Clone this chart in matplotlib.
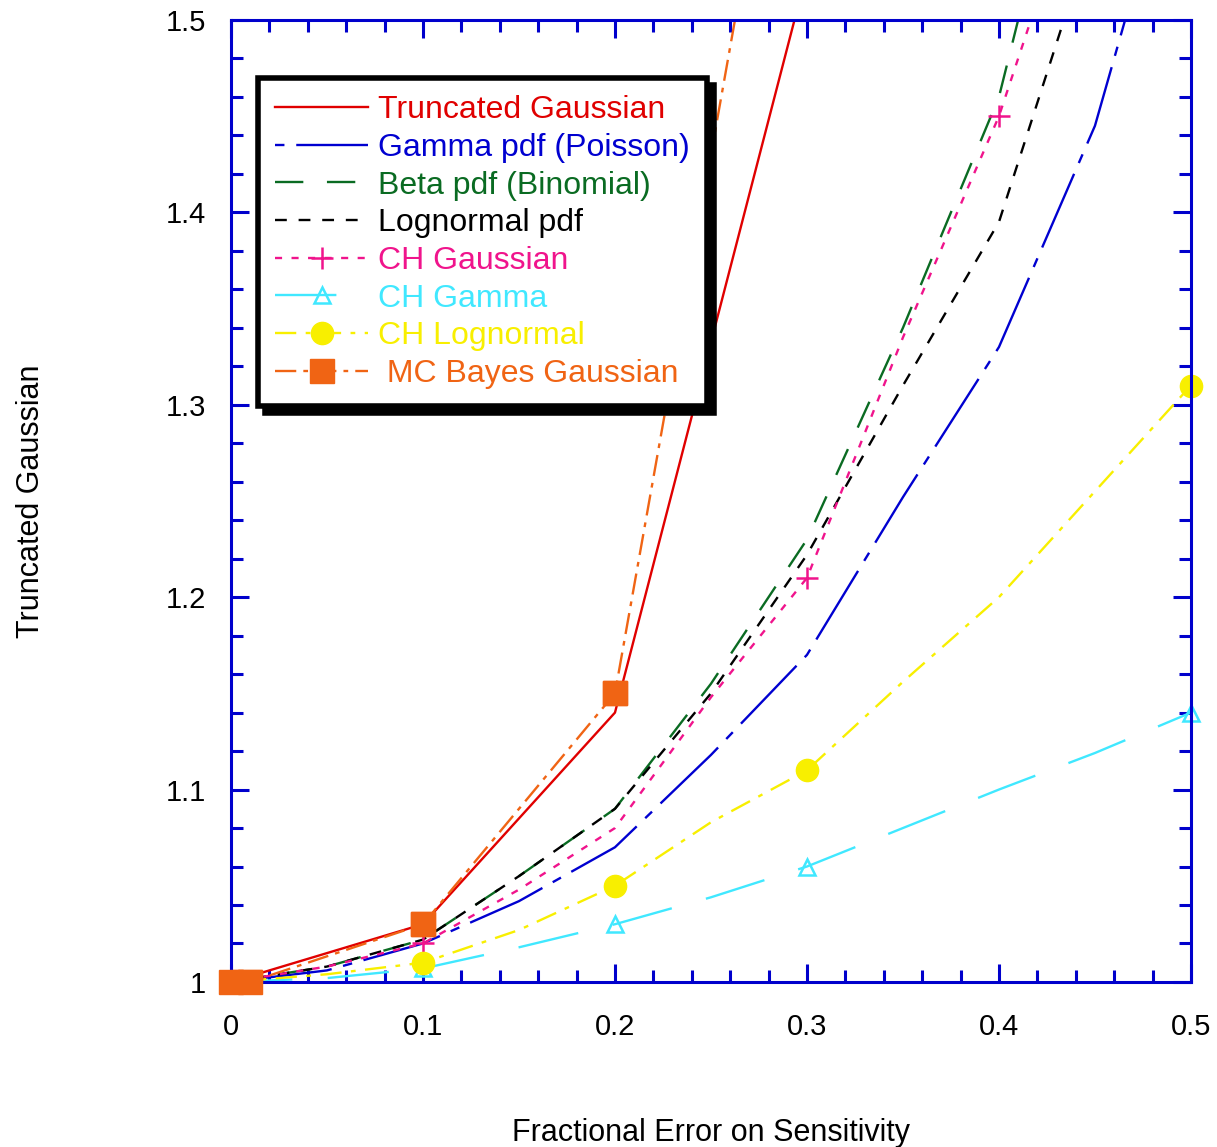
import matplotlib
matplotlib.use("Agg")
import matplotlib.pyplot as plt
from matplotlib.ticker import MultipleLocator, FormatStrFormatter

plt.rcParams["font.family"] = ["Liberation Sans", "DejaVu Sans"]

# ---- data ----
x_trunc = [0.0, 0.1, 0.2, 0.3]
y_trunc = [1.0, 1.03, 1.14, 1.525]

x_grid = [0.0, 0.05, 0.1, 0.15, 0.2, 0.25, 0.3, 0.35, 0.4, 0.45, 0.5]
y_gamma = [1.0, 1.006, 1.02, 1.042, 1.07, 1.118, 1.17, 1.252, 1.33, 1.445, 1.62]

x_beta = [0.0, 0.05, 0.1, 0.15, 0.2, 0.25, 0.3, 0.35, 0.4, 0.45]
y_beta = [1.0, 1.008, 1.022, 1.055, 1.09, 1.155, 1.23, 1.34, 1.46, 1.66]

x_logn = [0.0, 0.05, 0.1, 0.15, 0.2, 0.25, 0.3, 0.35, 0.4, 0.45]
y_logn = [1.0, 1.008, 1.022, 1.055, 1.09, 1.15, 1.222, 1.31, 1.395, 1.55]

x_chg = [0.0, 0.05, 0.1, 0.15, 0.2, 0.25, 0.3, 0.35, 0.4, 0.45]
y_chg = [1.0, 1.008, 1.02, 1.048, 1.08, 1.148, 1.21, 1.335, 1.45, 1.6]
mark_chg = [0, 2, 6, 8]

y_chgamma = [1.0, 1.002, 1.007, 1.018, 1.03, 1.044, 1.06, 1.08, 1.10, 1.119, 1.14]
mark_chgamma = [0, 2, 4, 6, 10]

y_chlogn = [1.0, 1.004, 1.01, 1.027, 1.05, 1.083, 1.11, 1.156, 1.2, 1.255, 1.31]
mark_chlogn = [0, 2, 4, 6, 10]

x_mc = [0.0, 0.01, 0.1, 0.2, 0.3]
y_mc = [1.0, 1.0, 1.03, 1.15, 1.71]
mark_mc = [0, 1, 2, 3]

labels = ["Truncated Gaussian", "Gamma pdf (Poisson)", "Beta pdf (Binomial)",
          "Lognormal pdf", "CH Gaussian", "CH Gamma", "CH Lognormal",
          " MC Bayes Gaussian"]
colors = ["#e00000", "#0000d0", "#0a6b22", "#000000",
          "#f0148c", "#40e8ff", "#f8ef00", "#f06414"]

fig = plt.figure(figsize=(12.17, 11.47), dpi=100)
ax = fig.add_axes([0.1898, 0.1439, 0.7888, 0.8387])

lw = 1.7
ax.plot(x_trunc, y_trunc, color=colors[0], lw=lw, label=labels[0])
ax.plot(x_grid, y_gamma, color=colors[1], lw=lw, dashes=(4, 5, 34, 5), label=labels[1])
ax.plot(x_beta, y_beta, color=colors[2], lw=lw, dashes=(12, 10), label=labels[2])
ax.plot(x_logn, y_logn, color=colors[3], lw=lw, dashes=(5, 5), label=labels[3])
ax.plot(x_chg, y_chg, color=colors[4], lw=lw, dashes=(3, 4), marker="+",
        markersize=16, markeredgewidth=1.8, markevery=mark_chg, label=labels[4])
ax.plot(x_grid, y_chgamma, color=colors[5], lw=lw, dashes=(26, 15), marker="^",
        markersize=11, markerfacecolor="none", markeredgewidth=1.8,
        markevery=mark_chgamma, label=labels[5], clip_on=False)
ax.plot(x_grid, y_chlogn, color=colors[6], lw=lw, dashes=(9, 4, 2, 4), marker="o",
        markersize=16, markevery=mark_chlogn, label=labels[6], clip_on=False)
ax.plot(x_mc, y_mc, color=colors[7], lw=lw, dashes=(9, 3, 2, 3), marker="s",
        markersize=17, markevery=mark_mc, label=labels[7])
# squares sitting on the axis edge are drawn unclipped, as in the original
ax.plot([x_mc[i] for i in mark_mc], [y_mc[i] for i in mark_mc], ls="none",
        marker="s", markersize=17, color=colors[7], clip_on=False, zorder=5)

ax.set_xlim(0, 0.5)
ax.set_ylim(1, 1.5)
ax.xaxis.set_major_locator(MultipleLocator(0.1))
ax.xaxis.set_minor_locator(MultipleLocator(0.02))
ax.yaxis.set_major_locator(MultipleLocator(0.1))
ax.yaxis.set_minor_locator(MultipleLocator(0.02))
ax.xaxis.set_major_formatter(FormatStrFormatter("%g"))
ax.yaxis.set_major_formatter(FormatStrFormatter("%g"))

axis_blue = "#0000cc"
for sp in ax.spines.values():
    sp.set_color(axis_blue)
    sp.set_linewidth(2.2)
ax.tick_params(which="both", direction="in", top=True, right=True,
               colors=axis_blue, labelcolor="black", width=2.2)
ax.tick_params(which="major", length=13, labelsize=21)
ax.tick_params(which="minor", length=8.5)
ax.tick_params(axis="x", which="major", pad=22)
ax.tick_params(axis="y", which="major", pad=18)

ax.set_xlabel("Fractional Error on Sensitivity", fontsize=22, labelpad=56)
ax.set_ylabel("Truncated Gaussian", fontsize=22, labelpad=86)

leg = ax.legend(loc="upper left", bbox_to_anchor=(0.028, 0.94), borderaxespad=0,
                fontsize=23, handlelength=2.9, handletextpad=0.3,
                labelspacing=0.24, borderpad=0.55, fancybox=False,
                shadow={"color": "black", "alpha": 1, "ox": 5, "oy": -5},
                framealpha=1)
leg.get_frame().set_edgecolor("black")
leg.get_frame().set_linewidth(4)
for txt, c in zip(leg.get_texts(), colors):
    txt.set_color(c)

fig.savefig("out.png", dpi=100)
